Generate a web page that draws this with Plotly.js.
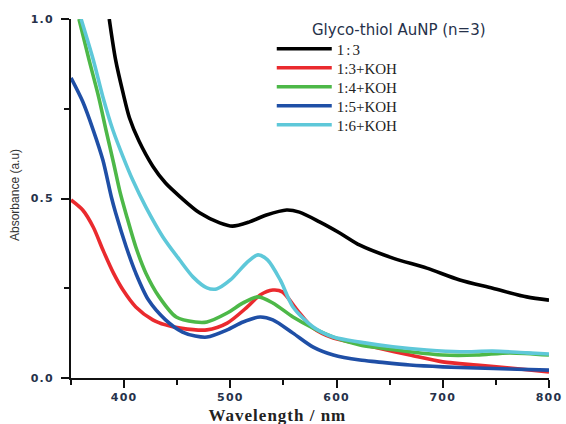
<!DOCTYPE html>
<html>
<head>
<meta charset="utf-8">
<script src="https://cdn.plot.ly/plotly-3.0.1.min.js"></script>
<style>
html,body{margin:0;padding:0;background:#fff;}
.xtick text, .ytick text {letter-spacing: 1.2px;}
.legendtext {letter-spacing: 2px !important;}
</style>
</head>
<body>
<div id="chart" style="width:566px;height:424px;"></div>
<script>
// Wavelength (nm) / absorbance (a.u.)
var names = ["1:3", "1:3+KOH", "1:4+KOH", "1:5+KOH", "1:6+KOH"];
var colors = ["#000000", "#ea2a2e", "#4db848", "#1f4fa6", "#5ec8d9"];

var wl_13 = [386, 392, 399, 405, 414, 427, 439, 453, 471, 490, 502, 518, 534, 553, 565, 584, 603, 622, 653, 685, 716, 747, 779, 800];
var ab_13 = [1.0, 0.886, 0.794, 0.725, 0.66, 0.59, 0.543, 0.504, 0.46, 0.432, 0.423, 0.435, 0.454, 0.468, 0.462, 0.435, 0.404, 0.37, 0.334, 0.306, 0.273, 0.25, 0.226, 0.217];

var wl_13k = [350, 361, 371, 380, 390, 399, 411, 427, 439, 453, 478, 497, 516, 528, 540, 549, 563, 578, 597, 622, 638, 669, 700, 732, 763, 800];
var ab_13k = [0.496, 0.468, 0.42, 0.357, 0.292, 0.245, 0.198, 0.162, 0.148, 0.139, 0.134, 0.153, 0.198, 0.231, 0.245, 0.24, 0.189, 0.139, 0.111, 0.095, 0.084, 0.064, 0.045, 0.036, 0.028, 0.017];

var wl_14k = [357.5, 367, 376, 383, 390, 396, 402, 411, 420.5, 433, 449, 467, 478, 497, 512, 526, 540, 559, 578, 597, 622, 638, 669, 700, 732, 763, 800];
var ab_14k = [1.0, 0.886, 0.783, 0.69, 0.60, 0.52, 0.455, 0.365, 0.292, 0.226, 0.17, 0.156, 0.156, 0.181, 0.209, 0.226, 0.209, 0.17, 0.139, 0.114, 0.092, 0.085, 0.073, 0.064, 0.064, 0.07, 0.064];

var wl_15k = [350, 361, 371, 380, 388, 392, 402, 411, 423, 439, 455, 467, 478, 497, 512, 528, 540, 559, 578, 597, 622, 638, 669, 700, 732, 763, 800];
var ab_15k = [0.836, 0.77, 0.69, 0.607, 0.504, 0.46, 0.365, 0.292, 0.217, 0.162, 0.128, 0.117, 0.114, 0.134, 0.156, 0.17, 0.162, 0.125, 0.086, 0.064, 0.05, 0.045, 0.036, 0.031, 0.028, 0.025, 0.022];

var wl_16k = [359.5, 371, 380, 389.5, 399, 408, 420.5, 436.5, 452, 465, 478, 487, 500, 516, 526, 535, 547, 559, 578, 597, 622, 653, 685, 716, 747, 779, 800];
var ab_16k = [1.0, 0.886, 0.783, 0.69, 0.616, 0.552, 0.476, 0.393, 0.33, 0.281, 0.251, 0.248, 0.273, 0.323, 0.343, 0.329, 0.273, 0.198, 0.142, 0.114, 0.10, 0.087, 0.078, 0.073, 0.075, 0.07, 0.067];

var xs = [wl_13, wl_13k, wl_14k, wl_15k, wl_16k];
var ys = [ab_13, ab_13k, ab_14k, ab_15k, ab_16k];

var xTickVals = [400, 500, 600, 700, 800];
var yTickVals = [0, 0.5, 1.0];

var legendIds = ["legend", "legend2", "legend3", "legend4", "legend5"];
var legendRowY = [0.9164, 0.8635, 0.8106, 0.7577, 0.7047];

var traces = names.map(function (n, i) {
  return {
    x: xs[i], y: ys[i], name: n, type: "scatter", mode: "lines",
    legend: legendIds[i],
    line: {color: colors[i], width: 3.6, shape: "spline", smoothing: 0.8}
  };
});

var tickFont = {family: "DejaVu Sans", size: 11, color: "#26314a", weight: "bold"};

var layout = {
  width: 566, height: 424,
  margin: {l: 71, r: 17, t: 19, b: 46},
  paper_bgcolor: "#ffffff", plot_bgcolor: "#ffffff",
  showlegend: true,
  xaxis: {
    range: [350, 800], tickvals: xTickVals, ticks: "outside", ticklen: 8, tickwidth: 2,
    tickcolor: "#111", showline: true, linecolor: "#111", linewidth: 2,
    showgrid: false, zeroline: false, tickfont: tickFont,
    minor: {dtick: 50, tick0: 350, ticks: "outside", ticklen: 5, tickwidth: 2, tickcolor: "#111", showgrid: false}
  },
  yaxis: {
    range: [0, 1], tickvals: yTickVals, tickformat: ".1f", ticks: "outside", ticklen: 8, tickwidth: 2,
    tickcolor: "#111", showline: true, linecolor: "#111", linewidth: 2,
    showgrid: false, zeroline: false, tickfont: tickFont, ticklabelstandoff: 5,
    minor: {dtick: 0.25, tick0: 0, ticks: "outside", ticklen: 5, tickwidth: 2, tickcolor: "#111", showgrid: false}
  },
  annotations: [
    {text: "Glyco-thiol AuNP (n=3)", xref: "paper", yref: "paper", x: 0.686, y: 0.969,
     xanchor: "center", yanchor: "middle", showarrow: false,
     font: {family: "DejaVu Sans", size: 15, color: "#26314a"}},
    {text: "Wavelength / nm", xref: "paper", yref: "paper", x: 0.431, y: -0.104,
     xanchor: "center", yanchor: "middle", showarrow: false,
     font: {family: "Liberation Serif", size: 17, color: "#222", weight: "bold"}},
    {text: "Absorbance (a.u)", xref: "paper", yref: "paper", x: -0.117, y: 0.51,
     xanchor: "center", yanchor: "middle", showarrow: false, textangle: -90,
     font: {family: "Liberation Sans", size: 12, color: "#333"}}
  ]
};

legendIds.forEach(function (id, i) {
  layout[id] = {
    x: 0.42, y: legendRowY[i], xanchor: "left", yanchor: "middle",
    bgcolor: "rgba(0,0,0,0)", borderwidth: 0,
    font: {family: "Liberation Serif", size: 15, color: "#222"},
    itemwidth: 55
  };
});

Plotly.newPlot("chart", traces, layout, {staticPlot: true, displayModeBar: false}).then(function () {
  var ann = document.querySelectorAll(".annotation-text");
  if (ann[1]) ann[1].style.letterSpacing = "1px";
});
</script>
</body>
</html>
